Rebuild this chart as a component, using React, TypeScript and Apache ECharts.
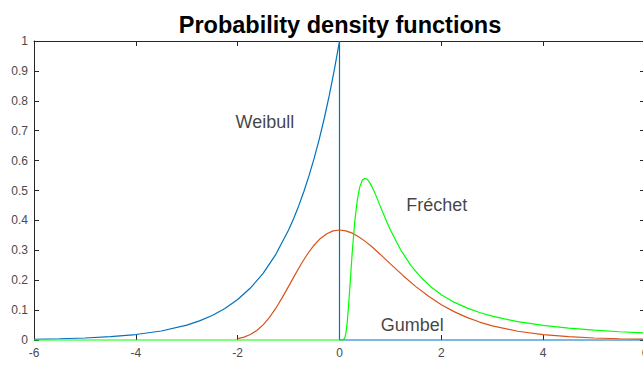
import React, { useEffect, useRef } from "react";
import * as echarts from "echarts";

// Sampled density curves: [x, density]
const weibullPoints: [number, number][] = [
  [-6, 0.0025], [-5.5, 0.0041], [-5, 0.0067], [-4.5, 0.0111], [-4, 0.0183],
  [-3.5, 0.0302], [-3, 0.0498], [-2.75, 0.0639], [-2.5, 0.0821], [-2.25, 0.1054],
  [-2, 0.1353], [-1.75, 0.1738], [-1.5, 0.2231], [-1.25, 0.2865], [-1, 0.3679],
  [-0.9, 0.4066], [-0.8, 0.4493], [-0.7, 0.4966], [-0.6, 0.5488], [-0.5, 0.6065],
  [-0.4, 0.6703], [-0.3, 0.7408], [-0.2, 0.8187], [-0.1, 0.9048], [0, 1.0],
  [0, 0], [6, 0],
];

const gumbelPoints: [number, number][] = [
  [-2, 0.0046], [-1.875, 0.0096], [-1.75, 0.0182], [-1.625, 0.0316], [-1.5, 0.0507],
  [-1.375, 0.0758], [-1.25, 0.1064], [-1.125, 0.1416], [-1, 0.1794], [-0.875, 0.2179],
  [-0.75, 0.2549], [-0.625, 0.2885], [-0.5, 0.317], [-0.375, 0.3396], [-0.25, 0.3556],
  [-0.125, 0.365], [0, 0.3679], [0.125, 0.3651], [0.25, 0.3574], [0.375, 0.3456],
  [0.5, 0.3307], [0.625, 0.3134], [0.75, 0.2945], [0.875, 0.2748], [1, 0.2546],
  [1.25, 0.2151], [1.5, 0.1785], [1.75, 0.1461], [2, 0.1182], [2.25, 0.0949],
  [2.5, 0.0756], [2.75, 0.06], [3, 0.0474], [3.5, 0.0293], [4, 0.018],
  [4.5, 0.011], [5, 0.0067], [5.5, 0.0041], [6, 0.0025],
];

const frechetPoints: [number, number][] = [
  [-6, 0], [0, 0], [0.05, 0], [0.1, 0.0045], [0.125, 0.0215], [0.15, 0.0565],
  [0.175, 0.1077], [0.2, 0.1684], [0.25, 0.2931], [0.3, 0.3968], [0.35, 0.4687],
  [0.4, 0.513], [0.45, 0.5353], [0.5, 0.5413], [0.55, 0.5365], [0.6, 0.5247],
  [0.65, 0.5082], [0.7, 0.4896], [0.75, 0.4686], [0.8, 0.4477], [0.9, 0.4064],
  [1, 0.3679], [1.2, 0.3018], [1.4, 0.2497], [1.6, 0.2091], [1.8, 0.1771],
  [2, 0.1516], [2.25, 0.1266], [2.5, 0.1073], [2.75, 0.0919], [3, 0.0796],
  [3.5, 0.0613], [4, 0.0487], [4.5, 0.0395], [5, 0.0327], [5.5, 0.0276], [6, 0.0235],
];

// Curve annotations: [x, y, text]
const annotations: [number, number, string][] = [
  [-2.05, 0.73, "Weibull"],
  [1.3, 0.45, "Fréchet"],
  [0.8, 0.05, "Gumbel"],
];

const xTicks = { min: -6, max: 6, interval: 2 };
const yTicks = { min: 0, max: 1, interval: 0.1 };

const FONT = "'Liberation Sans', Arial, Helvetica, sans-serif";
const AXIS_COLOR = "#262626";
const LABEL_COLOR = "#4a4a4a";

export default function App() {
  const ref = useRef<HTMLDivElement>(null);

  useEffect(() => {
    if (!ref.current) return;
    const chart = echarts.init(ref.current, undefined, { renderer: "svg" });

    const frameAxis = {
      axisLine: { show: true, onZero: false, lineStyle: { color: AXIS_COLOR, width: 1 } },
      axisTick: { show: true, inside: true, length: 5, lineStyle: { color: AXIS_COLOR } },
      splitLine: { show: false },
    };

    const curve = (name: string, data: [number, number][], color: string, z: number) => ({
      name,
      type: "line",
      data,
      showSymbol: false,
      clip: false,
      lineStyle: { color, width: 1.2 },
      z,
    });

    chart.setOption({
      animation: false,
      backgroundColor: "#ffffff",
      title: {
        text: "Probability density functions",
        left: 335,
        textAlign: "center",
        top: 8,
        textStyle: { fontFamily: FONT, fontSize: 23.5, fontWeight: "bold", color: "#000000" },
      },
      grid: {
        left: 34,
        right: -2,
        top: 41,
        bottom: 36,
        containLabel: false,
        outerBoundsMode: "none",
      },
      xAxis: [
        {
          type: "value",
          position: "bottom",
          ...xTicks,
          ...frameAxis,
          // the zero-level curves run along the bottom edge and hide it
          axisLine: { show: false, onZero: false },
          axisLabel: { color: LABEL_COLOR, fontFamily: FONT, fontSize: 12, margin: 7 },
          name: "x",
          nameLocation: "middle",
          nameGap: 33,
          nameTextStyle: { color: AXIS_COLOR, fontFamily: FONT, fontSize: 14 },
        },
        {
          type: "value",
          position: "top",
          ...xTicks,
          ...frameAxis,
          axisLabel: { show: false },
        },
      ],
      yAxis: [
        {
          type: "value",
          position: "left",
          ...yTicks,
          ...frameAxis,
          axisLabel: { color: LABEL_COLOR, fontFamily: FONT, fontSize: 12, margin: 6 },
        },
        {
          type: "value",
          position: "right",
          ...yTicks,
          ...frameAxis,
          axisLabel: { show: false },
        },
      ],
      series: [
        curve("Weibull", weibullPoints, "#0072BD", 10),
        curve("Gumbel", gumbelPoints, "#D95319", 11),
        curve("Fréchet", frechetPoints, "#00FF00", 12),
        {
          name: "labels",
          type: "scatter",
          silent: true,
          symbolSize: 1,
          itemStyle: { color: "rgba(0,0,0,0)" },
          data: annotations.map(([x, y, t]) => ({ value: [x, y], name: t })),
          label: {
            show: true,
            position: "right",
            distance: 0,
            formatter: (p: any) => p.name,
            color: "#111111",
            fontFamily: FONT,
            fontSize: 18,
          },
          z: 13,
        },
      ],
    });

    return () => chart.dispose();
  }, []);

  return (
    <div
      ref={ref}
      style={{ position: "fixed", left: 0, top: 0, width: 643, height: 376, background: "#fff" }}
    />
  );
}
